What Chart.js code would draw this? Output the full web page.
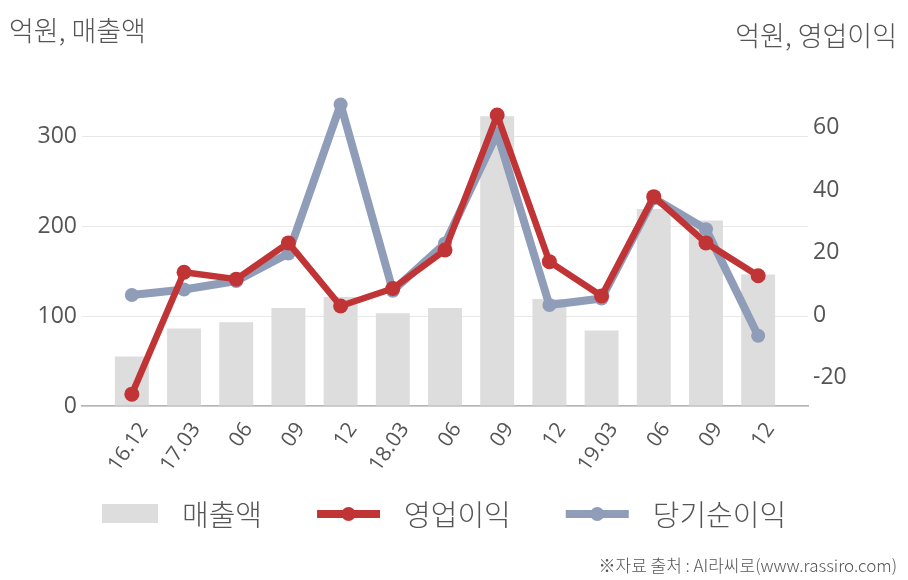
<!DOCTYPE html>
<html>
<head>
<meta charset="utf-8">
<script src="https://cdn.jsdelivr.net/npm/chart.js@4"></script>
<style>
  html, body { margin: 0; padding: 0; background: #fff; }
  canvas { display: block; }
</style>
</head>
<body>
<canvas id="Chart" width="908" height="580"></canvas>
<script>
// quarters
const labels = ['16.12', '17.03', '06', '09', '12', '18.03', '06', '09', '12', '19.03', '06', '09', '12'];
// 매출액 (left axis, 억원)
const sales = [55, 86, 93, 109, 121, 103, 109, 322, 119, 84, 219, 206, 146];
// 영업이익 (right axis, 억원)
const opProfit = [-25.3, 13.7, 11.5, 23.1, 2.9, 8.5, 20.8, 64, 17.1, 6.1, 37.9, 23.1, 12.6];
// 당기순이익 (right axis, 억원)
const netProfit = [6.4, 8.2, 10.9, 19.7, 67.4, 7.8, 22.9, 58.2, 3.2, 5.3, 37.4, 27.5, -6.6];
const leftTicks = [0, 100, 200, 300];
const rightTicks = [-20, 0, 20, 40, 60];

const GRAY = '#dddddd';
const RED = '#c13436';
const BLUE = '#8f9db8';
const TXT = '#555555';
const FONT = "'Open Sans', 'Noto Sans CJK KR', sans-serif";
const KFONT = "'Noto Sans CJK KR', 'Open Sans', sans-serif";

function pts(arr) {
    return arr.map((v, i) => ({ x: i, y: v }));
}

// titles, legend and source line
const extras = {
    id: 'extras',
    afterDraw(chart) {
        const ctx = chart.ctx;
        ctx.save();
        ctx.fillStyle = TXT;
        ctx.textBaseline = 'middle';
        ctx.font = '300 27px ' + KFONT;
        ctx.textAlign = 'left';
        ctx.fillText('억원, 매출액', 9, 31);
        ctx.textAlign = 'right';
        ctx.fillText('억원, 영업이익', 897, 36);

        // legend
        const items = [
            { text: '매출액', type: 'box', color: GRAY },
            { text: '영업이익', type: 'line', color: RED },
            { text: '당기순이익', type: 'line', color: BLUE }
        ];
        const ly = 514;
        let x = 102;
        ctx.font = '300 29px ' + KFONT;
        ctx.textAlign = 'left';
        items.forEach(it => {
            let w;
            if (it.type == 'box') {
                w = 56;
                ctx.fillStyle = it.color;
                ctx.fillRect(x, ly - 10, w, 19);
            } else {
                w = 63;
                ctx.strokeStyle = it.color;
                ctx.lineWidth = 8;
                ctx.beginPath();
                ctx.moveTo(x, ly);
                ctx.lineTo(x + w, ly);
                ctx.stroke();
                ctx.fillStyle = it.color;
                ctx.beginPath();
                ctx.arc(x + w / 2, ly, 7, 0, Math.PI * 2);
                ctx.fill();
            }
            x += w + 24;
            ctx.fillStyle = TXT;
            ctx.fillText(it.text, x, ly + 1);
            x += ctx.measureText(it.text).width + 55;
        });

        ctx.font = '300 17px ' + KFONT;
        ctx.textAlign = 'right';
        ctx.fillStyle = TXT;
        ctx.fillText('※자료 출처 : AI라씨로(www.rassiro.com)', 897, 566);
        ctx.restore();
    }
};

Chart.defaults.font.family = FONT;
Chart.defaults.color = TXT;

const ctx = document.getElementById('Chart').getContext('2d');
const myChart = new Chart(ctx, {
    data: {
        datasets: [
            {
                type: 'line',
                label: '영업이익',
                data: pts(opProfit),
                yAxisID: 'y1',
                borderColor: RED,
                backgroundColor: RED,
                borderWidth: 6.5,
                borderJoinStyle: 'round',
                borderCapStyle: 'round',
                pointRadius: 7.5,
                pointBorderWidth: 0,
                pointBackgroundColor: RED,
                tension: 0,
                order: 0
            },
            {
                type: 'line',
                label: '당기순이익',
                data: pts(netProfit),
                yAxisID: 'y1',
                borderColor: BLUE,
                backgroundColor: BLUE,
                borderWidth: 8,
                borderJoinStyle: 'round',
                borderCapStyle: 'round',
                pointRadius: 7,
                pointBorderWidth: 0,
                pointBackgroundColor: BLUE,
                tension: 0,
                order: 1
            },
            {
                type: 'bar',
                label: '매출액',
                data: pts(sales),
                yAxisID: 'y',
                backgroundColor: GRAY,
                barPercentage: 1,
                categoryPercentage: 0.65,
                order: 2
            }
        ]
    },
    options: {
        responsive: false,
        animation: false,
        devicePixelRatio: 1,
        layout: { padding: { top: 91, left: 0, right: 0, bottom: 0 } },
        plugins: {
            legend: { display: false },
            tooltip: { enabled: false }
        },
        scales: {
            x: {
                type: 'linear',
                offset: false,
                min: -0.955,
                max: 12.955,
                grid: { display: false, drawTicks: false, offset: false },
                border: { display: true, color: '#b4b4b4', width: 1.5 },
                afterBuildTicks: s => { s.ticks = labels.map((_, i) => ({ value: i })); },
                afterFit: s => { s.height = 174; },
                ticks: {
                    autoSkip: false,
                    minRotation: 55,
                    maxRotation: 55,
                    padding: 12,
                    labelOffset: 12,
                    font: { size: 21 },
                    callback: v => labels[v]
                }
            },
            y: {
                position: 'left',
                min: 0,
                max: 350,
                grid: { color: '#e8e8e8', lineWidth: 1, drawTicks: false },
                border: { display: false },
                afterBuildTicks: s => { s.ticks = leftTicks.map(v => ({ value: v })); },
                afterFit: s => { s.width = 82; },
                ticks: { padding: 5, font: { size: 23 } }
            },
            y1: {
                position: 'right',
                min: -29.1,
                max: 71.7,
                grid: { display: false, drawTicks: false },
                border: { display: false },
                afterBuildTicks: s => { s.ticks = rightTicks.map(v => ({ value: v })); },
                afterFit: s => { s.width = 100; },
                ticks: { padding: 5, font: { size: 23 } }
            }
        }
    },
    plugins: [extras]
});
</script>
</body>
</html>
